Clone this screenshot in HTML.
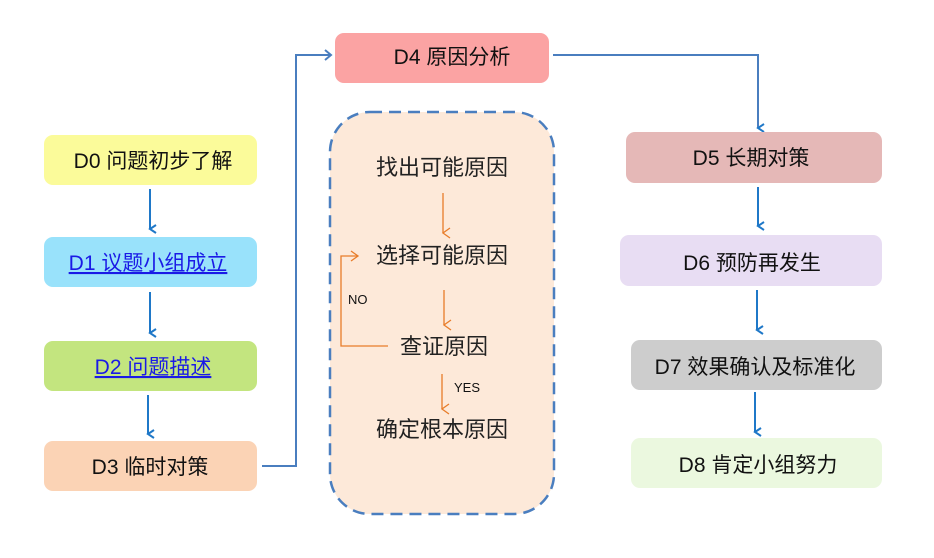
<!DOCTYPE html>
<html><head><meta charset="utf-8"><style>
html,body{margin:0;padding:0;background:#fff;}
svg text{font-family:"Liberation Sans","Noto Sans CJK SC",sans-serif;}
</style></head><body>
<svg width="934" height="553" viewBox="0 0 934 553" xmlns="http://www.w3.org/2000/svg">
<defs>
<marker id="ab" markerWidth="10" markerHeight="10" refX="5" refY="8" orient="auto" markerUnits="userSpaceOnUse">
<path d="M1,2 L5,8 L9,2" fill="none" stroke="#1f78c8" stroke-width="2"/></marker>
<marker id="ab2" markerWidth="12" markerHeight="12" refX="9" refY="6" orient="auto" markerUnits="userSpaceOnUse">
<path d="M3,1 L9,6 L3,11" fill="none" stroke="#4a7ebf" stroke-width="2"/></marker>
<marker id="ao" markerWidth="12" markerHeight="12" refX="6" refY="10" orient="auto" markerUnits="userSpaceOnUse">
<path d="M1,3 L6,10 L11,3" fill="none" stroke="#e87d2a" stroke-width="1.3"/></marker>
<marker id="aor" markerWidth="12" markerHeight="12" refX="10" refY="6" orient="auto" markerUnits="userSpaceOnUse">
<path d="M3,1 L10,6 L3,11" fill="none" stroke="#e87d2a" stroke-width="1.3"/></marker>
</defs>
<!-- left boxes -->
<rect x="44" y="135" width="213" height="50" rx="9" fill="#fbfb9a"/>
<rect x="44" y="237" width="213" height="50" rx="9" fill="#99e2fb"/>
<rect x="44" y="341" width="213" height="50" rx="9" fill="#c3e57f"/>
<rect x="44" y="441" width="213" height="50" rx="9" fill="#fbd3b5"/>
<text x="153" y="168" font-size="21" text-anchor="middle" fill="#111">D0 问题初步了解</text>
<text x="148" y="270" font-size="21" text-anchor="middle" fill="#1a1ae6" text-decoration="underline">D1 议题小组成立</text>
<text x="153" y="374" font-size="21" text-anchor="middle" fill="#1a1ae6" text-decoration="underline">D2 问题描述</text>
<text x="150" y="474" font-size="21" text-anchor="middle" fill="#111">D3 临时对策</text>
<line x1="150" y1="189" x2="150" y2="229" stroke="#1f78c8" stroke-width="2" marker-end="url(#ab)"/>
<line x1="150" y1="292" x2="150" y2="333" stroke="#1f78c8" stroke-width="2" marker-end="url(#ab)"/>
<line x1="148" y1="395" x2="148" y2="434" stroke="#1f78c8" stroke-width="2" marker-end="url(#ab)"/>
<polyline points="262,466 296,466 296,55 331,55" fill="none" stroke="#4a7ebf" stroke-width="2" marker-end="url(#ab2)"/>
<!-- D4 -->
<rect x="335" y="33" width="214" height="50" rx="9" fill="#fba3a3"/>
<text x="452" y="64" font-size="21" text-anchor="middle" fill="#111">D4 原因分析</text>
<polyline points="553,55 758,55 758,128" fill="none" stroke="#4a7ebf" stroke-width="2" marker-end="url(#ab)"/>
<!-- dashed box -->
<rect x="330" y="112" width="224" height="402" rx="40" fill="#fde9d9" stroke="#4a7ebf" stroke-width="2.5" stroke-dasharray="12,7"/>
<g font-size="22" fill="#222" text-anchor="middle">
<text x="442" y="175">找出可能原因</text>
<text x="442" y="263">选择可能原因</text>
<text x="444" y="354">查证原因</text>
<text x="442" y="437">确定根本原因</text>
</g>
<line x1="443" y1="193" x2="443" y2="233" stroke="#e87d2a" stroke-width="1.3" marker-end="url(#ao)"/>
<line x1="444" y1="290" x2="444" y2="325" stroke="#e87d2a" stroke-width="1.3" marker-end="url(#ao)"/>
<line x1="442" y1="374" x2="442" y2="409" stroke="#e87d2a" stroke-width="1.3" marker-end="url(#ao)"/>
<polyline points="388,346 341,346 341,256 358,256" fill="none" stroke="#e87d2a" stroke-width="1.3" marker-end="url(#aor)"/>
<text x="348" y="304" font-size="13" fill="#111">NO</text>
<text x="454" y="392" font-size="13" fill="#111">YES</text>
<!-- right -->
<rect x="626" y="132" width="256" height="51" rx="9" fill="#e5b8b7"/>
<rect x="620" y="235" width="262" height="51" rx="9" fill="#e8ddf3"/>
<rect x="631" y="340" width="251" height="50" rx="9" fill="#cdcdcd"/>
<rect x="631" y="438" width="251" height="50" rx="9" fill="#ebf8df"/>
<g font-size="21" fill="#111" text-anchor="middle">
<text x="751" y="165">D5 长期对策</text>
<text x="752" y="270">D6 预防再发生</text>
<text x="755" y="374">D7 效果确认及标准化</text>
<text x="758" y="472">D8 肯定小组努力</text>
</g>
<line x1="758" y1="187" x2="758" y2="226" stroke="#1f78c8" stroke-width="2" marker-end="url(#ab)"/>
<line x1="757" y1="290" x2="757" y2="330" stroke="#1f78c8" stroke-width="2" marker-end="url(#ab)"/>
<line x1="755" y1="392" x2="755" y2="432" stroke="#1f78c8" stroke-width="2" marker-end="url(#ab)"/>
</svg>
</body></html>
